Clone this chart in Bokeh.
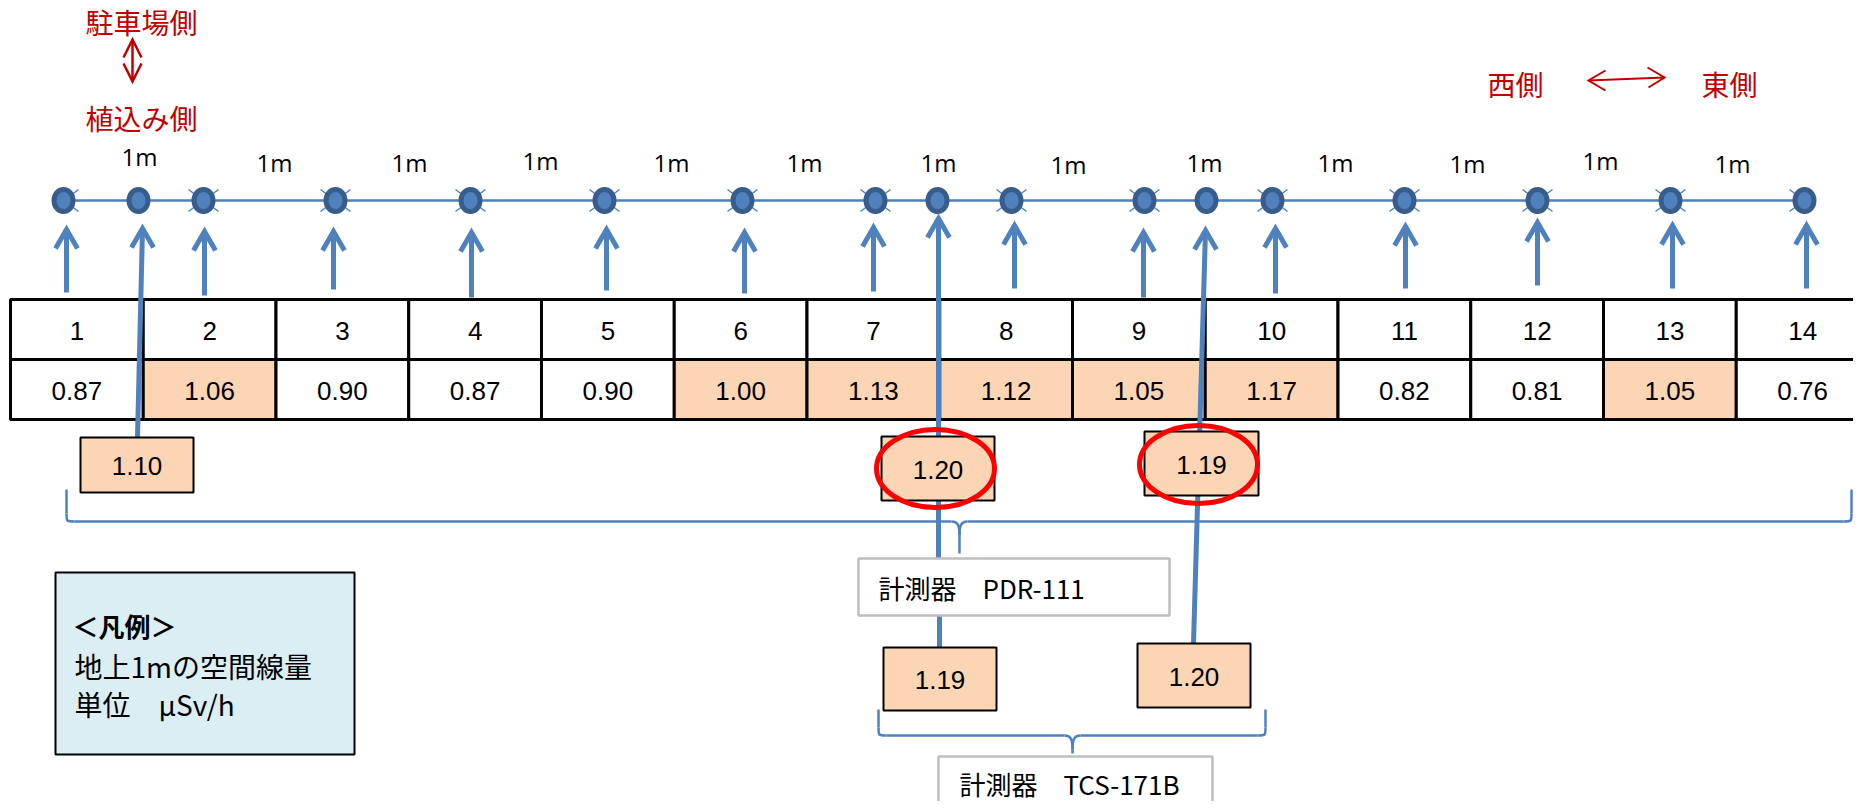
from bokeh.plotting import figure
from bokeh.models import Range1d
from bokeh.core.properties import value
from bokeh.embed import file_html
from bokeh.resources import INLINE

# ---------------- data ----------------
point_labels = ["1", "2", "3", "4", "5", "6", "7", "8", "9", "10", "11", "12", "13", "14"]
ground_values = [0.87, 1.06, 0.90, 0.87, 0.90, 1.00, 1.13, 1.12, 1.05, 1.17, 0.82, 0.81, 1.05, 0.76]
pdr_values = [1.10, 1.20, 1.19]      # 計測器 PDR-111
tcs_values = [1.19, 1.20]            # 計測器 TCS-171B
spacing_labels = ["1m"] * 13
highlight_threshold = 1.00

# ---------------- layout (page pixels) ----------------
W, H = 1853, 801
BLUE = "#4F81BD"
DARK = "#385D8A"
PEACH = "#FCD5B5"
RED_T = "#C00000"
JP = value("Noto Sans CJK JP")
NUM = value("Liberation Sans")

p = figure(width=W, height=H, x_range=Range1d(0, W), y_range=Range1d(H, 0),
           output_backend="svg", toolbar_location=None, min_border=0,
           x_axis_type=None, y_axis_type=None)
p.grid.visible = False
p.outline_line_color = None
p.background_fill_color = "white"
p.border_fill_color = "white"

# red side labels
p.text(x=[141, 141, 1515, 1729], y=[21, 117, 83, 83],
       text=["駐車場側", "植込み側", "西側", "東側"], text_font=JP,
       text_font_size="28px", text_align="center", text_baseline="middle", text_color=RED_T)
p.segment(x0=[132], y0=[39], x1=[132], y1=[81], line_color=RED_T, line_width=2.5)
p.multi_line(xs=[[123, 132, 141], [123, 132, 141]], ys=[[57, 39, 57], [63, 81, 63]],
             line_color=RED_T, line_width=2.5, line_join="miter")
p.segment(x0=[1588], y0=[80], x1=[1664], y1=[77], line_color=RED_T, line_width=2)
p.multi_line(xs=[[1605, 1588, 1605], [1647, 1664, 1648]], ys=[[70, 80, 90], [67, 77, 87]],
             line_color=RED_T, line_width=2, line_join="miter")

# sensor points and connecting line
dot_x = [63, 138, 203, 335, 470, 604, 742, 875, 937, 1011, 1144, 1206, 1272, 1404, 1537, 1670, 1804]
dot_y = 200
p.line(x=[dot_x[0], dot_x[-1]], y=[dot_y, dot_y], line_color=BLUE, line_width=2.5)
tick_sides = ["R", "", "LR", "LR", "LR", "LR", "LR", "LR", "", "LR", "LR", "", "LR", "LR", "LR", "LR", "L"]
tx0, ty0, tx1, ty1 = [], [], [], []
for cx, s in zip(dot_x, tick_sides):
    for side, sg in (("L", -1), ("R", 1)):
        if side in s:
            for vy in (-1, 1):
                tx0.append(cx + sg * 15); ty0.append(dot_y + vy * 11)
                tx1.append(cx + sg * 7); ty1.append(dot_y + vy * 5)
p.segment(x0=tx0, y0=ty0, x1=tx1, y1=ty1, line_color=BLUE, line_width=1.5)
p.ellipse(x=dot_x, y=[dot_y] * len(dot_x), width=19, height=22,
          fill_color=BLUE, line_color=DARK, line_width=5)

# "1m" spacing labels
m_x = [139, 274, 409, 540, 671, 804, 938, 1068, 1204, 1335, 1467, 1600, 1732]
m_y = [156, 162, 162, 160, 162, 162, 162, 164, 162, 162, 163, 160, 163]
p.text(x=m_x, y=m_y, text=spacing_labels, text_font=value("Open Sans"),
       text_font_size="24px", text_align="center", text_baseline="middle", text_color="black")

# up arrows (short)
arr_x = [66, 204, 333, 471, 606, 744, 873, 1014, 1143, 1275, 1405, 1537, 1672, 1806]
arr_tip = [229, 231, 231, 232, 229, 232, 227, 225, 232, 228, 226, 222, 225, 225]
arr_bot = [292, 295, 289, 297, 290, 293, 291, 288, 297, 293, 288, 285, 288, 288]
p.segment(x0=arr_x, y0=[t + 2 for t in arr_tip], x1=arr_x, y1=arr_bot, line_color=BLUE, line_width=5)
p.multi_line(xs=[[x - 11, x, x + 11] for x in arr_x], ys=[[t + 19, t, t + 19] for t in arr_tip],
             line_color=BLUE, line_width=5, line_join="miter")

# table
col_l = [10 + 132.75 * i for i in range(14)]
col_r = [c + 132.75 for c in col_l]
fills = [PEACH if v >= highlight_threshold else "white" for v in ground_values]
p.quad(left=col_l, right=col_r, top=[299] * 14, bottom=[359] * 14,
       fill_color="white", line_color="black", line_width=3)
p.quad(left=col_l, right=col_r, top=[359] * 14, bottom=[419] * 14,
       fill_color=fills, line_color="black", line_width=3)
cx_cells = [(a + b) / 2 for a, b in zip(col_l, col_r)]
p.text(x=cx_cells, y=[330] * 14, text=point_labels, text_font=NUM, text_font_size="26px",
       text_align="center", text_baseline="middle", text_color="black")
p.text(x=cx_cells, y=[390] * 14, text=["%.2f" % v for v in ground_values], text_font=NUM,
       text_font_size="26px", text_align="center", text_baseline="middle", text_color="black")

# long measurement lines
p.segment(x0=[142, 938, 939, 1205], y0=[228, 220, 615, 230], x1=[137, 938, 939, 1193], y1=[437, 558, 647, 643],
          line_color=BLUE, line_width=5)
p.multi_line(xs=[[131, 142, 153], [927, 938, 949], [1194, 1205, 1216]],
             ys=[[247, 228, 247], [237, 218, 237], [249, 230, 249]],
             line_color=BLUE, line_width=5, line_join="miter")

# reading boxes
box_l = [80, 881, 1144, 883, 1137]
box_r = [193, 994, 1258, 996, 1250]
box_t = [437, 436, 431, 647, 643]
box_b = [492, 500, 495, 710, 707]
box_vals = pdr_values + tcs_values
p.quad(left=box_l, right=box_r, top=box_t, bottom=box_b, fill_color=PEACH, line_color="black", line_width=2)
p.text(x=[(a + b) / 2 for a, b in zip(box_l, box_r)], y=[(a + b) / 2 + 1 for a, b in zip(box_t, box_b)],
       text=["%.2f" % v for v in box_vals], text_font=NUM, text_font_size="26px",
       text_align="center", text_baseline="middle", text_color="black")

# red circles on the highest readings
p.ellipse(x=[935, 1198], y=[468, 464], width=118, height=78, fill_color=None,
          line_color="#FF0000", line_width=5)

# braces
def brace(x_left, x_right, y_top, y_line, x_tip, y_tip, lw):
    r = 8
    p.segment(x0=[x_left, x_right], y0=[y_top, y_top], x1=[x_left, x_right], y1=[y_line - r, y_line - r],
              line_color=BLUE, line_width=lw)
    p.bezier(x0=[x_left, x_right], y0=[y_line - r, y_line - r], x1=[x_left + r, x_right - r], y1=[y_line, y_line],
             cx0=[x_left, x_right], cy0=[y_line, y_line], cx1=[x_left, x_right], cy1=[y_line, y_line],
             line_color=BLUE, line_width=lw)
    p.segment(x0=[x_left + r, x_tip + 8], y0=[y_line, y_line], x1=[x_tip - 8, x_right - r], y1=[y_line, y_line],
              line_color=BLUE, line_width=lw)
    p.bezier(x0=[x_tip - 8, x_tip + 8], y0=[y_line, y_line], x1=[x_tip, x_tip], y1=[y_line + 14, y_line + 14],
             cx0=[x_tip - 1, x_tip + 1], cy0=[y_line, y_line], cx1=[x_tip, x_tip], cy1=[y_line + 5, y_line + 5],
             line_color=BLUE, line_width=lw)
    p.segment(x0=[x_tip], y0=[y_line + 14], x1=[x_tip], y1=[y_tip], line_color=BLUE, line_width=lw)

brace(66, 1851, 489, 521, 959, 553, 2.5)
brace(878, 1265, 709, 735, 1072, 753, 2.5)

# instrument labels
p.quad(left=[858, 938], right=[1169, 1212], top=[558, 756], bottom=[615, 830],
       fill_color="white", line_color="#BFBFBF", line_width=2.5)
p.text(x=[878, 959], y=[587, 783], text=["計測器　PDR-111", "計測器　TCS-171B"], text_font=JP,
       text_font_size="26px", text_align="left", text_baseline="middle", text_color="black")

# legend box
p.quad(left=[55], right=[354], top=[572], bottom=[754], fill_color="#DBEEF4", line_color="black", line_width=2)
p.text(x=[72], y=[625], text=["＜凡例＞"], text_font=JP, text_font_size="26px", text_font_style="bold",
       text_align="left", text_baseline="middle", text_color="black")
p.text(x=[74, 74], y=[665, 703], text=["地上1mの空間線量", "単位　μSv/h"], text_font=JP,
       text_font_size="28px", text_align="left", text_baseline="middle", text_color="black")

open("out.html", "w").write(file_html(p, INLINE))
